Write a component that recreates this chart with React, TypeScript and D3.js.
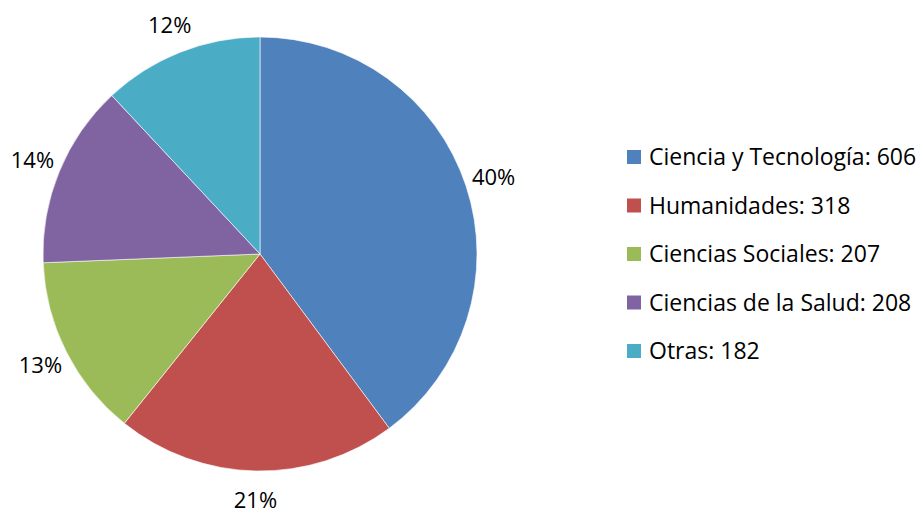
import * as d3 from 'd3'

const categories = ['Ciencia y Tecnología', 'Humanidades', 'Ciencias Sociales', 'Ciencias de la Salud', 'Otras']
const values = [606, 318, 207, 208, 182]
const percentLabels = ['40%', '21%', '13%', '14%', '12%']
const colors = ['#4F81BD', '#C0504D', '#9BBB59', '#8064A2', '#4BACC6']

const width = 924
const height = 513
const cx = 260
const cy = 254
const radius = 217
const labelRadius = 246
const font = "'Open Sans', 'Liberation Sans', sans-serif"

const App = () => {
  const pieGen = d3.pie<number>().sort(null).value(d => d)
  const arcs = pieGen(values)
  const arcGen = d3.arc<d3.PieArcDatum<number>>().innerRadius(0).outerRadius(radius)
  const labelArc = d3.arc<d3.PieArcDatum<number>>().innerRadius(labelRadius).outerRadius(labelRadius)

  const legendY = d3.scalePoint<number>().domain(d3.range(categories.length)).range([157, 351])

  return (
    <svg
      width={width}
      height={height}
      style={{ position: 'absolute', left: 0, top: 0, background: '#fff' }}
    >
      <g transform={`translate(${cx},${cy})`}>
        {arcs.map((a, i) => (
          <path key={i} d={arcGen(a) ?? ''} fill={colors[i]} stroke="#fff" strokeWidth={0.6} />
        ))}
        {arcs.map((a, i) => {
          const [x, y] = labelArc.centroid(a)
          return (
            <text
              key={i}
              x={x}
              y={y}
              dy="0.35em"
              textAnchor="middle"
              fontFamily={font}
              fontSize={22}
              fill="#000"
            >
              {percentLabels[i]}
            </text>
          )
        })}
      </g>
      <g>
        {categories.map((c, i) => (
          <g key={c} transform={`translate(627,${legendY(i)})`}>
            <rect x={0} y={-7} width={14} height={14} fill={colors[i]} />
            <text x={22} y={0} dy="0.35em" fontFamily={font} fontSize={23} fill="#000">
              {`${c}: ${values[i]}`}
            </text>
          </g>
        ))}
      </g>
    </svg>
  )
}

export default App
